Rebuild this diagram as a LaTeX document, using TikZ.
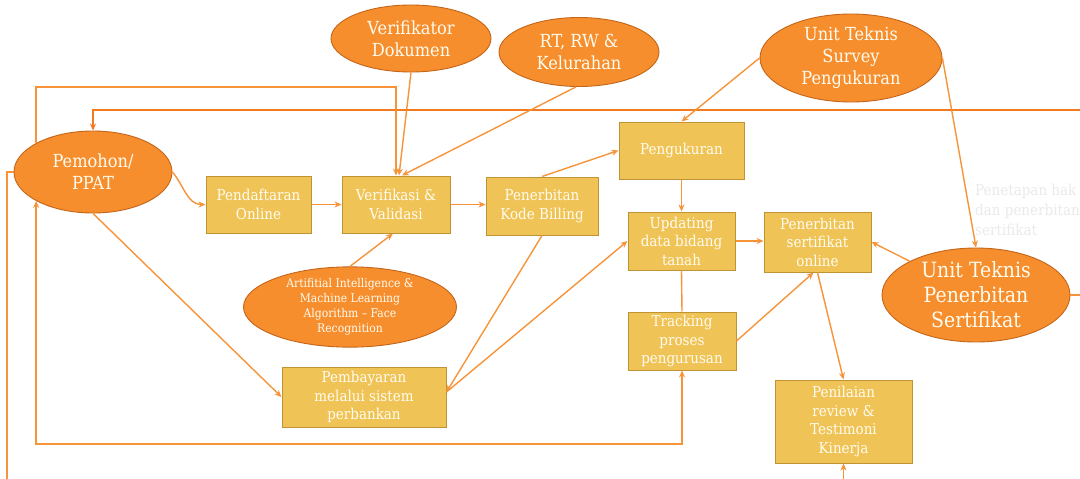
\documentclass[tikz,border=0pt]{standalone}
\usepackage{fontspec}
\setmainfont{DejaVu Serif}[FakeStretch=0.9]
\usetikzlibrary{shapes.geometric,arrows.meta,calc}

\definecolor{ellfill}{HTML}{F78E2D}
\definecolor{ellline}{HTML}{C4651A}
\definecolor{boxfill}{HTML}{F0C356}
\definecolor{boxline}{HTML}{BE9434}
\definecolor{linec}{HTML}{F7943A}
\definecolor{heavyc}{HTML}{F47A20}
\definecolor{txt}{HTML}{FFFCF0}
\definecolor{faint}{HTML}{EAEAEA}

\tikzset{
  boxnode/.style={rectangle, draw=boxline, fill=boxfill, line width=1pt,
    text=txt, align=center, inner sep=1pt, font=\fontsize{15}{18.5}\selectfont},
  ellnode/.style={ellipse, draw=ellline, fill=ellfill, line width=0.9pt,
    text=txt, align=center, inner sep=0pt, font=\fontsize{18}{22}\selectfont},
  tip/.style={-{Stealth[length=7pt,width=6pt]}},
  conn/.style={draw=linec, line width=1.4pt, tip},
  biconn/.style={draw=linec, line width=1.4pt, {Stealth[length=7pt,width=6pt]}-{Stealth[length=7pt,width=6pt]}},
  plain/.style={draw=linec, line width=1.4pt},
  heavy/.style={draw=heavyc, line width=2.6pt, tip}
}

\begin{document}
\begin{tikzpicture}[x=1pt,y=-1pt]
\clip (0,0) rectangle (1080,479);
\fill[white] (0,0) rectangle (1080,479);

% process boxes
\node[boxnode, minimum width=105pt, minimum height=57pt] (pend) at (258.5,204.5) {Pendaftaran\\Online};
\node[boxnode, minimum width=108pt, minimum height=57pt] (verif) at (396,204.5) {Verifikasi \&\\Validasi};
\node[boxnode, minimum width=112pt, minimum height=58pt] (bill) at (542,206) {Penerbitan\\Kode Billing};
\node[boxnode, minimum width=125pt, minimum height=57pt] (peng) at (681.5,150.5) {Pengukuran};
\node[boxnode, minimum width=107pt, minimum height=58pt] (upd) at (681.5,241) {Updating\\data bidang\\tanah};
\node[boxnode, minimum width=107pt, minimum height=60pt] (sert) at (817.5,242) {Penerbitan\\sertifikat\\online};
\node[boxnode, minimum width=108pt, minimum height=58pt] (track) at (682,341) {Tracking\\proses\\pengurusan};
\node[boxnode, minimum width=164pt, minimum height=60pt] (bayar) at (364,397) {Pembayaran\\melalui sistem\\perbankan};
\node[boxnode, minimum width=137pt, minimum height=83pt] (nilai) at (843.5,421.5) {Penilaian\\review \&\\Testimoni\\Kinerja};

% actors
\node[ellnode, minimum width=160pt, minimum height=67pt] (verdok) at (411,38.5) {Verifikator\\Dokumen};
\node[ellnode, minimum width=160pt, minimum height=69pt] (rtrw) at (579,52) {RT, RW \&\\Kelurahan};
\node[ellnode, minimum width=182pt, minimum height=88pt] (survey) at (851,58) {Unit Teknis\\Survey\\Pengukuran};
\node[ellnode, minimum width=158pt, minimum height=82pt] (pemohon) at (93,172) {Pemohon/\\PPAT};
\node[ellnode, minimum width=213pt, minimum height=78pt, font=\fontsize{12}{15}\selectfont] (ai) at (350,307) {Artifitial Intelligence \&\\Machine Learning\\Algorithm -- Face\\Recognition};
\node[ellnode, minimum width=188pt, minimum height=94pt, font=\fontsize{21}{25}\selectfont] (terbit) at (976,295) {Unit Teknis\\Penerbitan\\Sertifikat};

% light note beside the certificate unit
\node[anchor=north west, text=faint, align=left, inner sep=0pt, font=\fontsize{15}{20}\selectfont] (note) at (975,184) {Penetapan hak\\dan penerbitan\\sertifikat};

% loose ends at the edges
\coordinate (eR) at (1080,110);
\coordinate (topY) at (0,87);
\coordinate (botY) at (0,444);
\coordinate (outL) at (7,479);
\coordinate (outB) at (843.5,479);
\coordinate (outR) at (1080,295);

% connectors
\draw[heavy] (eR) -| (pemohon.north);
\draw[conn] (pemohon.153) |- (topY -| verif.north) -- (verif.north);
\draw[conn] (verdok.south) -- ([xshift=3pt]verif.north);
\draw[conn] (rtrw.265) -- ([xshift=6pt]verif.north);
\draw[conn] (pemohon.east) to[out=-50,in=180] (pend.west);
\draw[conn] (pend.east) -- (verif.west);
\draw[conn] (verif.east) -- (verif.east -| bill.west);
\draw[conn] (ai.north) -- ([xshift=-3pt]verif.south);
\draw[conn] (pemohon.south) -- (bayar.west);
\draw[conn] (bill.south) -- ([yshift=5pt]bayar.east);
\draw[conn] ([yshift=5pt]bayar.east) -- (upd.west);
\draw[conn] (bill.north) -- (peng.west);
\draw[conn] (survey.west) -- (peng.north);
\draw[conn] (peng.south) -- (upd.north);
\draw[conn] (upd.east) -- (upd.east -| sert.west);
\draw[plain] (upd.south) -- (track.north);
\draw[conn] (track.east) -- ([xshift=-4pt]sert.south);
\draw[conn] (sert.south) -- (nilai.north);
\draw[conn] (terbit.153) -- (sert.east);
\draw[conn] (survey.east) -- (terbit.north);
\draw[biconn] (track.south) |- (botY -| pemohon.207) -- (pemohon.207);
\draw[plain] (pemohon.west) -| (outL);
\draw[conn] (outB) -- (nilai.south);
\draw[plain] (terbit.east) -- (outR);
\end{tikzpicture}
\end{document}
